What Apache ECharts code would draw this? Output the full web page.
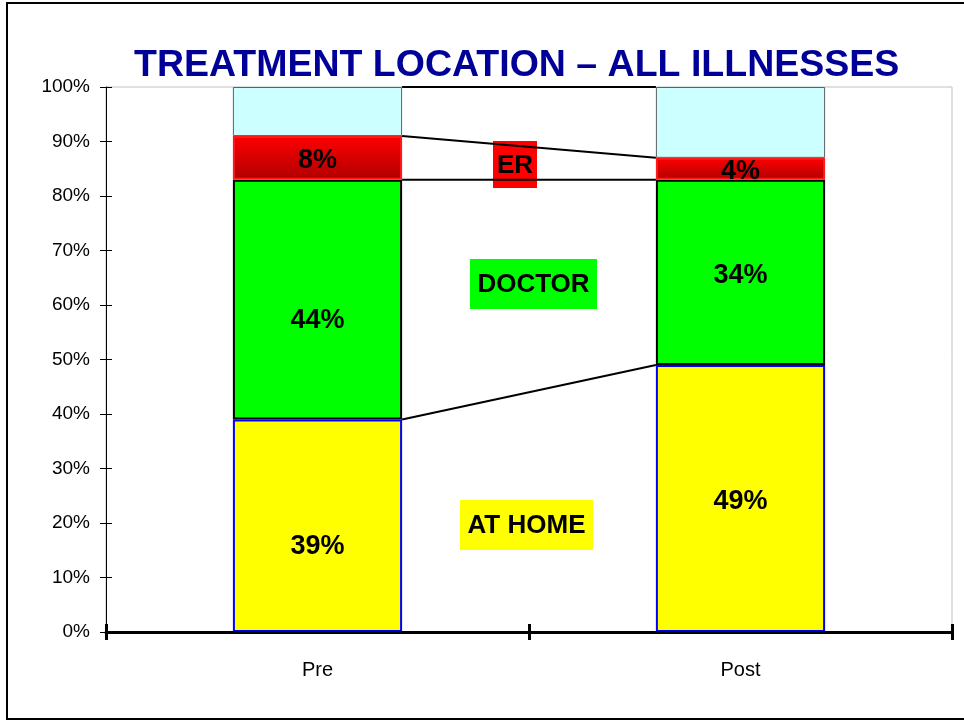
<!DOCTYPE html>
<html lang="en">
  <head>
    <meta charset="UTF-8" />
    <title>Treatment location</title>
    <script src="https://cdn.jsdelivr.net/npm/echarts@6/dist/echarts.min.js"></script>
    <style>
      html, body { margin: 0; padding: 0; background: #fff; }
    </style>
  </head>
  <body>
    <div id="chart" style="width: 964px; height: 721px"></div>
  </body>
  <script>
    // data (percent of cases)
    const categories = ["Pre", "Post"];
    const atHome = [39, 49];
    const doctor = [44, 34];
    const er = [8, 4];
    const other = [9, 13];
    const yTicks = [0, 10, 20, 30, 40, 50, 60, 70, 80, 90, 100];

    const font = 'Arial, "Liberation Sans", sans-serif';

    // stack tops, used for the connector lines between the two bars
    const stacks = [atHome, doctor, er, other];
    let run = [0, 0];
    const tops = stacks.map((s) => {
      run = run.map((v, i) => v + s[i]);
      return [0, run[0], run[1]];
    });

    const valueLabel = {
      show: true,
      position: "inside",
      formatter: "{c}%",
      color: "#000",
      fontFamily: font,
      fontWeight: "bold",
      fontSize: 27,
      offset: [0, 3],
    };

    // the two "Pre" labels were moved down a bit in the original
    function withOffsets(arr, offs) {
      return arr.map((v, i) => ({ value: v, label: { offset: [0, offs[i]] } }));
    }

    const chart = echarts.init(document.getElementById("chart"));

    function box(x, y, w, h, fill, text) {
      return {
        type: "group",
        z: 100,
        children: [
          { type: "rect", shape: { x: x, y: y, width: w, height: h }, style: { fill: fill } },
          {
            type: "text",
            x: x + w / 2,
            y: y + h / 2 + 1,
            style: {
              text: text,
              fill: "#000",
              font: "bold 26px " + font,
              align: "center",
              verticalAlign: "middle",
            },
          },
        ],
      };
    }

    const gridBox = { left: 106, right: 12, top: 87, bottom: 89 };

    const option = {
      backgroundColor: "#fff",
      animation: false,
      title: {
        text: "TREATMENT LOCATION \u2013 ALL ILLNESSES",
        left: 129,
        top: 42,
        textStyle: { color: "#000099", fontFamily: font, fontWeight: "bold", fontSize: 37.5 },
      },
      grid: [
        Object.assign({ show: true, borderColor: "#c0c0c0", borderWidth: 1 }, gridBox),
        Object.assign({ show: false }, gridBox),
      ],
      xAxis: [
        {
          type: "category",
          data: categories,
          axisLine: { lineStyle: { color: "#000", width: 3 } },
          axisTick: { show: true, length: 8, lineStyle: { color: "#000", width: 3 } },
          axisLabel: { color: "#000", fontFamily: font, fontSize: 20, margin: 28 },
          z: 10,
        },
        {
          // second copy only for the inward half of the crossing ticks
          type: "category",
          gridIndex: 1,
          data: categories,
          axisLine: { show: false },
          axisTick: { show: true, inside: true, length: 8, lineStyle: { color: "#000", width: 3 } },
          axisLabel: { show: false },
          z: 10,
        },
      ],
      yAxis: [
        {
          type: "value",
          min: 0,
          max: 100,
          interval: 10,
          splitLine: { show: false },
          axisLine: { show: true, lineStyle: { color: "#000", width: 1 } },
          axisTick: { show: true, length: 6, lineStyle: { color: "#000" } },
          axisLabel: {
            color: "#000",
            fontFamily: font,
            fontSize: 19,
            margin: 16,
            formatter: (v) => (yTicks.includes(v) ? v + "%" : ""),
          },
        },
        {
          type: "value",
          gridIndex: 1,
          min: 0,
          max: 100,
          interval: 10,
          splitLine: { show: false },
          axisLine: { show: false },
          axisTick: { show: true, inside: true, length: 6, lineStyle: { color: "#000" } },
          axisLabel: { show: false },
        },
      ],
      series: [
        {
          name: "At home",
          type: "bar",
          stack: "all",
          barWidth: "40%",
          data: withOffsets(atHome, [21, 3]),
          itemStyle: { color: "#ffff00", borderColor: "#0000ff", borderWidth: 2 },
          label: valueLabel,
        },
        {
          name: "Doctor",
          type: "bar",
          stack: "all",
          data: withOffsets(doctor, [21, 3]),
          itemStyle: { color: "#00ff00", borderColor: "#000", borderWidth: 2 },
          label: valueLabel,
        },
        {
          name: "ER",
          type: "bar",
          stack: "all",
          data: er,
          itemStyle: {
            color: new echarts.graphic.LinearGradient(0, 0, 0, 1, [
              { offset: 0, color: "#ff0000" },
              { offset: 1, color: "#b00000" },
            ]),
            borderColor: "#ff1a1a",
            borderWidth: 2,
          },
          label: valueLabel,
        },
        {
          name: "Other",
          type: "bar",
          stack: "all",
          data: other,
          itemStyle: { color: "#ccffff", borderColor: "#606060", borderWidth: 1 },
        },
        {
          name: "links",
          type: "custom",
          encode: { x: 0, y: [1, 2] },
          data: tops,
          z: 5,
          renderItem: function (params, api) {
            const a = api.coord([0, api.value(1)]);
            const b = api.coord([1, api.value(2)]);
            const half = api.size([1, 0])[0] * 0.2;
            return {
              type: "line",
              shape: { x1: a[0] + half, y1: a[1], x2: b[0] - half, y2: b[1] },
              style: { stroke: "#000", lineWidth: 2 },
            };
          },
        },
      ],
      graphic: [
        {
          type: "rect",
          z: 200,
          shape: { x: 7, y: 3, width: 1000, height: 716 },
          style: { fill: null, stroke: "#000", lineWidth: 2 },
        },
        box(493, 141, 44, 47, "#ff0000", "ER"),
        box(470, 259, 127, 50, "#00ff00", "DOCTOR"),
        box(460, 500, 133, 50, "#ffff00", "AT HOME"),
      ],
    };
    chart.setOption(option);
  </script>
</html>
